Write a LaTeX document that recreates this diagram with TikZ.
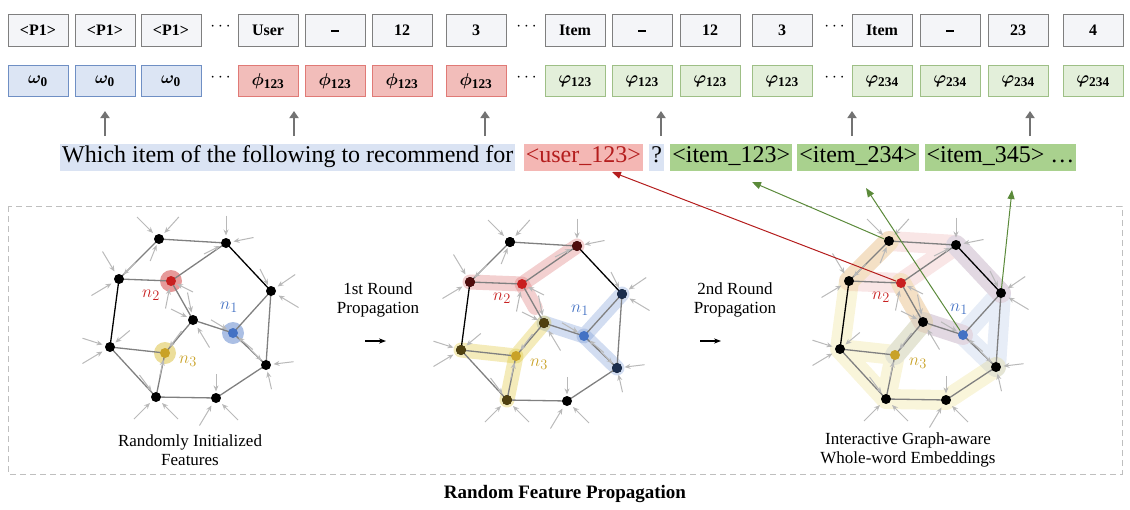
\documentclass[tikz,border=0pt]{standalone}
\usepackage{amsmath,bm}
\usepackage{fontspec}
\setmainfont{Liberation Serif}
\usetikzlibrary{calc,arrows.meta}
\definecolor{gbox}{HTML}{F4F5F8}\definecolor{gbord}{HTML}{7F7F7F}
\definecolor{bfill}{HTML}{DCE5F4}\definecolor{bbord}{HTML}{6F8FC4}
\definecolor{rfill}{HTML}{F2BDBA}\definecolor{rbord}{HTML}{E07A76}
\definecolor{gfill}{HTML}{E3EFDA}\definecolor{gbrd}{HTML}{9EBF86}
\definecolor{hlb}{HTML}{DAE3F3}\definecolor{hlr}{HTML}{F4B7B4}\definecolor{hlg}{HTML}{A9D18E}
\definecolor{nred}{HTML}{C82020}\definecolor{nblue}{HTML}{4472C4}\definecolor{ngold}{HTML}{C9A227}
\definecolor{agreen}{HTML}{5B8A3A}
\tikzset{
 tok/.style={draw=gbord,fill=gbox,line width=1pt,minimum width=60pt,minimum height=32pt,inner sep=0pt,font=\fontsize{16}{16}\selectfont\bfseries},
 emb/.style={tok,minimum height=31pt,font=\fontsize{19}{19}\selectfont\bfseries},
 eb/.style={emb,draw=bbord,fill=bfill},
 er/.style={emb,draw=rbord,fill=rfill},
 eg/.style={emb,draw=gbrd,fill=gfill},
 dots/.style={font=\fontsize{16}{16}\selectfont\bfseries},
 uparr/.style={draw=gray!90!black,line width=2pt,-{Triangle[length=7pt,width=9pt]}},
 hl/.style={inner sep=2pt,font=\fontsize{24}{24}\selectfont,text height=17pt,text depth=6pt,anchor=west},
 gn/.style={circle,fill=black,inner sep=0pt,minimum size=10pt},
 ge/.style={draw=gray,line width=1.3pt},
 gk/.style={draw=black,line width=1.3pt},
 garr/.style={draw=gray!55,line width=1pt,-{Stealth[length=6pt,width=5pt]}},
 lab/.style={font=\fontsize{17}{19}\selectfont,align=center},
 nl/.style={font=\fontsize{19}{19}\selectfont},
}
\newcommand{\us}{\rule[-3pt]{8pt}{1.6pt}}
\begin{document}
\begin{tikzpicture}[x=1pt,y=-1pt]
\useasboundingbox (0,0) rectangle (1130,509);
\foreach \n/\x/\t in {t1/38/{<P1>},t2/105/{<P1>},t3/171/{<P1>},t4/268/User,t5/335/\us,t6/402/12,t7/476/3,t8/575/Item,t9/642/\us,t10/710/12,t11/782/3,t12/882/Item,t13/950/\us,t14/1018/23,t15/1093/4}
  \node[tok] (\n) at (\x,30) {\t};
\foreach \n/\x in {d1/222,d2/528,d3/836} \node[dots] (\n) at (\x,27) {$\cdots$};
\foreach \n/\x in {e1/38,e2/105,e3/171} \node[eb] (\n) at (\x,81) {$\bm{\omega}_{\mathbf 0}$};
\foreach \n/\x in {e4/268,e5/335,e6/402,e7/476} \node[er] (\n) at (\x,81) {$\bm{\phi}_{\mathbf{123}}$};
\foreach \n/\x in {e8/575,e9/642,e10/710,e11/782} \node[eg] (\n) at (\x,81) {$\bm{\varphi}_{\mathbf{123}}$};
\foreach \n/\x in {e12/882,e13/950,e14/1018,e15/1093} \node[eg] (\n) at (\x,81) {$\bm{\varphi}_{\mathbf{234}}$};
\foreach \n/\x in {f1/222,f2/528,f3/836} \node[dots] (\n) at (\x,78) {$\cdots$};
\node[hl,fill=hlb] (s0) at (60,157) {Which item of the following to recommend for};
\node[hl,fill=hlr,text=nred!90!black] (su) at ($(s0.east)+(8,0)$) {<user\_123>};
\node[hl,fill=hlb] (sq) at ($(su.east)+(6,0)$) {?};
\node[hl,fill=hlg] (s1) at ($(sq.east)+(6,0)$) {<item\_123>};
\node[hl,fill=hlg] (s2) at ($(s1.east)+(5,0)$) {<item\_234>};
\node[hl,fill=hlg] (s3) at ($(s2.east)+(5,0)$) {<item\_345> \dots};
\foreach \i/\x in {1/105,2/294,3/485,4/661,5/852,6/1030}{
  \coordinate (ua\i) at (\x,136); \coordinate (ub\i) at (\x,111);
  \draw[uparr] (ua\i) -- (ub\i);}
\draw[gray!50,line width=0.8pt,dash pattern=on 6pt off 4pt] (8,206) rectangle (1122,474);
\foreach \g/\sx/\sy in {1/0/0,2/351/3,3/730/2}{
 \begin{scope}[shift={(\sx,\sy)}]
  \foreach \n/\x/\y in {a/159/239,b/226/243,c/119/279,n2/171/281,d/271/291,e/193/320,n1/233/333,f/110/347,n3/165/353,g/266/365,h/156/397,i/216/398}
    \coordinate (g\g\n) at (\x,\y);
 \end{scope}}
\fill[nred,opacity=.45] (g1n2) circle (11);
\fill[nblue,opacity=.45] (g1n1) circle (11);
\fill[ngold!80!yellow,opacity=.45] (g1n3) circle (11);
\begin{scope}[line width=15pt,line cap=round,line join=round,opacity=.3]
\draw[nred!70] (g2c) -- (g2n2) -- (g2b); \draw[nred!70] (g2n2) -- ($(g2n2)!0.6!(g2e)$);
\draw[nblue!80] (g2e) -- (g2n1) -- (g2d); \draw[nblue!80] (g2n1) -- (g2g);
\draw[ngold!70!yellow] (g2f) -- (g2n3) -- (g2e); \draw[ngold!70!yellow] (g2n3) -- (g2h);
\end{scope}
\begin{scope}[line width=20pt,line cap=round,line join=round,opacity=.16]
\draw[nred!70] (g3c) -- (g3a) -- (g3b) -- (g3d) (g3c) -- (g3n2) -- (g3b) (g3n2) -- (g3e) -- (g3n1);
\draw[nblue!80] (g3b) -- (g3d) -- (g3g) -- (g3n1) -- (g3e) -- (g3n3) (g3n1) -- (g3d);
\draw[ngold!70!yellow] (g3a) -- (g3c) -- (g3f) -- (g3h) -- (g3i) -- (g3g) (g3f) -- (g3n3) -- (g3h) (g3n3) -- (g3e) -- (g3n2);
\end{scope}
\foreach \g in {1,2,3}{
  \foreach \u/\v in {a/b,a/c,b/n2,c/n2,n2/e,e/n1,e/n3,n1/d,n1/g,d/g,f/n3,f/h,n3/h,h/i,i/g}
    \draw[ge] (g\g\u) -- (g\g\v);
  \draw[gk] (g\g b) -- (g\g d); \draw[gk] (g\g c) -- (g\g f);
  \foreach \n/\dx/\dy in {a/-20/-20,a/18/-20,a/-8/20,b/0/-25,b/25/-5,b/-20/10,c/-15/-25,c/-25/15,c/15/-15,n2/-5/25,n2/20/10,d/22/-15,d/25/15,d/-10/-20,e/-20/-10,e/-5/-25,e/15/25,n1/-20/-12,n1/18/15,f/-25/-8,f/-25/15,f/18/-15,n3/15/-20,n3/-5/22,g/25/-3,g/5/22,g/-15/-15,h/-20/20,h/20/20,h/-15/-20,i/-15/25,i/20/20,i/0/-22}
    \draw[garr] ($(g\g\n)+1.1*(\dx,\dy)$) -- ($(g\g\n)+0.3*(\dx,\dy)$);
  \foreach \n in {a,b,c,d,e,f,g,h,i} \node[gn] (G\g\n) at (g\g\n) {};
  \node[gn,fill=nred] (G\g n2) at (g\g n2) {};
  \node[gn,fill=nblue] (G\g n1) at (g\g n1) {};
  \node[gn,fill=ngold] (G\g n3) at (g\g n3) {};
  \node[nl,text=nred] (L\g a) at ($(g\g n2)+(-20,14)$) {$n_2$};
  \node[nl,text=nblue] (L\g b) at ($(g\g n1)+(-4,-26)$) {$n_1$};
  \node[nl,text=ngold] (L\g c) at ($(g\g n3)+(23,8)$) {$n_3$};
}
\foreach \n/\c in {c/nred,a/black,b/nred,e/ngold,d/nblue,g/nblue,f/ngold,h/ngold}
  \node[gn,fill=\c!40!black] (H\n) at (g2\n) {};
\node[lab] (l1) at (190,450) {Randomly Initialized\\Features};
\node[lab] (l2) at (908,450) {Interactive Graph-aware\\Whole-word Embeddings};
\node[lab] (r1) at (378,300) {1st Round\\Propagation};
\node[lab] (r2) at (735,300) {2nd Round\\Propagation};
\coordinate (p1) at (365,341); \coordinate (p2) at (386,341);
\coordinate (p3) at (700,341); \coordinate (p4) at (721,341);
\draw[black,line width=1.8pt,-{Stealth[length=7pt]}] (p1) -- (p2);
\draw[black,line width=1.8pt,-{Stealth[length=7pt]}] (p3) -- (p4);
\node[font=\fontsize{19}{19}\selectfont\bfseries] (title) at (565,494) {Random Feature Propagation};
\coordinate (t1x) at (612,172); \coordinate (t2x) at (752,182);
\coordinate (t3x) at (866,188); \coordinate (t4x) at (1012,190);
\draw[nred!90!black,line width=1pt,-{Triangle[length=9pt,width=7pt]}] (G3n2) -- (t1x);
\draw[agreen,line width=1pt,-{Triangle[length=9pt,width=7pt]}] (G3a) -- (t2x);
\draw[agreen,line width=1pt,-{Triangle[length=9pt,width=7pt]}] (G3n1) -- (t3x);
\draw[agreen,line width=1pt,-{Triangle[length=9pt,width=7pt]}] (G3d) -- (t4x);
\end{tikzpicture}
\end{document}
